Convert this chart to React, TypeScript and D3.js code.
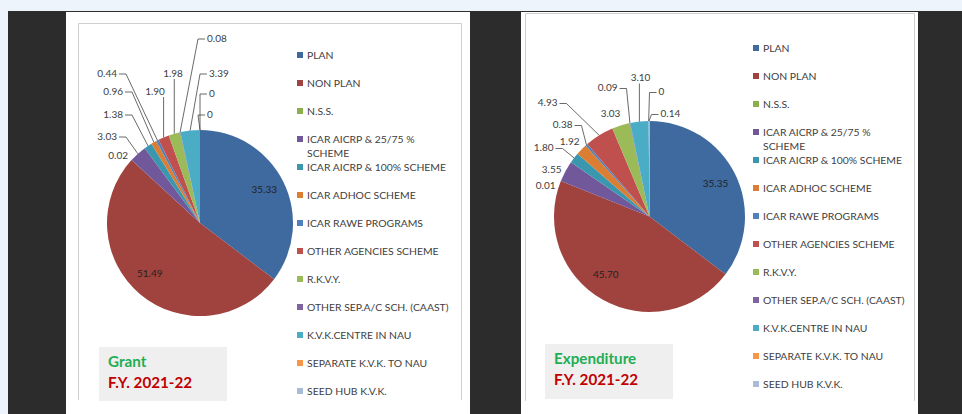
import React from "react";
import * as d3 from "d3";

const categories = [
  "PLAN",
  "NON PLAN",
  "N.S.S.",
  "ICAR AICRP & 25/75 % SCHEME",
  "ICAR AICRP & 100% SCHEME",
  "ICAR ADHOC SCHEME",
  "ICAR RAWE PROGRAMS",
  "OTHER AGENCIES SCHEME",
  "R.K.V.Y.",
  "OTHER SEP.A/C SCH. (CAAST)",
  "K.V.K.CENTRE IN NAU",
  "SEPARATE K.V.K. TO NAU",
  "SEED HUB K.V.K.",
];
const grantValues = [35.33, 51.49, 0.02, 3.03, 1.38, 0.96, 0.44, 1.9, 1.98, 0.08, 3.39, 0, 0];
const expenditureValues = [35.35, 45.7, 0.01, 3.55, 1.8, 1.92, 0.38, 4.93, 3.03, 0.09, 3.1, 0, 0.14];
const grantTitle = ["Grant", "F.Y. 2021-22"];
const expenditureTitle = ["Expenditure", "F.Y. 2021-22"];

const colors = [
  "#3e6a9f", "#a0423d", "#8cae4c", "#71589a", "#3b97ae", "#db7e33",
  "#4f81bd", "#c0504d", "#9bbb59", "#8064a2", "#4bacc6", "#f79646", "#a8bbd8",
];

type Lab = { x: number; y: number; anchor: "start" | "middle" | "end"; leader: "none" | "left" | "right" | "below" | "inside" };

// label layout (positions relative to pie centre; for inside labels an offset from the centroid)
const grantLabels: Lab[] = [
  { x: 1, y: -2, anchor: "middle", leader: "inside" },
  { x: -5, y: -4, anchor: "middle", leader: "inside" },
  { x: -72, y: -68, anchor: "end", leader: "none" },
  { x: -83, y: -87, anchor: "end", leader: "right" },
  { x: -77, y: -109, anchor: "end", leader: "right" },
  { x: -77, y: -132, anchor: "end", leader: "right" },
  { x: -83, y: -150, anchor: "end", leader: "right" },
  { x: -45, y: -132, anchor: "middle", leader: "below" },
  { x: -27, y: -150, anchor: "middle", leader: "below" },
  { x: 7, y: -185, anchor: "start", leader: "left" },
  { x: 9, y: -150, anchor: "start", leader: "left" },
  { x: 9, y: -130, anchor: "start", leader: "left" },
  { x: 7, y: -109, anchor: "start", leader: "left" },
];
const expenditureLabels: Lab[] = [
  { x: 1, y: -1, anchor: "middle", leader: "inside" },
  { x: -8, y: -5, anchor: "middle", leader: "inside" },
  { x: -94, y: -31, anchor: "end", leader: "none" },
  { x: -88, y: -47, anchor: "end", leader: "none" },
  { x: -96, y: -69, anchor: "end", leader: "right" },
  { x: -70, y: -75, anchor: "end", leader: "none" },
  { x: -77, y: -92, anchor: "end", leader: "right" },
  { x: -92, y: -114, anchor: "end", leader: "right" },
  { x: -39, y: -103, anchor: "middle", leader: "none" },
  { x: -32, y: -129, anchor: "end", leader: "right" },
  { x: -9, y: -139, anchor: "middle", leader: "below" },
  { x: 9, y: -125, anchor: "start", leader: "left" },
  { x: 11, y: -103, anchor: "start", leader: "left" },
];

const FONT = "Lato, 'Open Sans', sans-serif";
const TEXT = "#404040";

function fmt(v: number) {
  return v === 0 ? "0" : v.toFixed(2);
}

type ChartProps = {
  values: number[];
  labels: Lab[];
  title: string[];
  cx: number;
  cy: number;
  r: number;
  legendX: number;
  legendY: number;
  titleBox: [number, number, number, number];
};

function PieChart({ values, labels, title, cx, cy, r, legendX, legendY, titleBox }: ChartProps) {
  const pie = d3.pie<number>().sort(null).value((d) => d);
  const arcs = pie(values);
  const arc = d3.arc<d3.PieArcDatum<number>>().innerRadius(0).outerRadius(r);
  const edge = (a: d3.PieArcDatum<number>) => {
    const m = (a.startAngle + a.endAngle) / 2;
    return [r * Math.sin(m), -r * Math.cos(m)];
  };
  const inside = (a: d3.PieArcDatum<number>) => {
    const m = (a.startAngle + a.endAngle) / 2;
    const k = 0.76 * r;
    return [k * Math.sin(m), -k * Math.cos(m)];
  };
  const rowStep = 28;
  const legendRows = categories.map((c, i) => ({
    i,
    y: legendY + i * rowStep,
    lines: c === "ICAR AICRP & 25/75 % SCHEME" ? ["ICAR AICRP & 25/75 %", "SCHEME"] : [c],
  }));
  return (
    <g>
      <g transform={`translate(${cx},${cy})`}>
        {arcs.map((a, i) => (
          <path key={i} d={arc(a) || ""} fill={colors[i]} />
        ))}
        {arcs.map((a, i) => {
          const L = labels[i];
          const txt = fmt(values[i]);
          if (L.leader === "inside") {
            const [x, y] = inside(a);
            return (
              <text key={i} x={x + L.x} y={y + L.y + 3.5} textAnchor="middle" fontSize={10} fill="#222" fontFamily={FONT}>
                {txt}
              </text>
            );
          }
          const [ex, ey] = edge(a);
          let d = "";
          if (L.leader === "right") {
            const x1 = L.x + 2;
            const yy = L.y + 1;
            d = `M${x1},${yy}H${x1 + 7}L${ex},${ey}`;
          } else if (L.leader === "left") {
            const x1 = L.x - 2;
            const yy = L.y + 1;
            d = `M${x1},${yy}H${x1 - 7}L${ex},${ey}`;
          } else if (L.leader === "below") {
            d = `M${ex},${L.y + 6}L${ex},${ey}`;
          }
          return (
            <g key={i}>
              {d && <path d={d} fill="none" stroke="#444" strokeWidth={0.8} />}
              <text x={L.x} y={L.y + 3.5} textAnchor={L.anchor} fontSize={10} fill={TEXT} fontFamily={FONT}>
                {txt}
              </text>
            </g>
          );
        })}
      </g>
      {legendRows.map((lr) => (
        <g key={lr.i}>
          <rect x={legendX} y={lr.y - 3} width={6} height={6} fill={colors[lr.i]} />
          {lr.lines.map((ln, j) => (
            <text key={j} x={legendX + 10} y={lr.y + 3.7 + j * 14} fontSize={10.4} fill={TEXT} fontFamily={FONT}>
              {ln}
            </text>
          ))}
        </g>
      ))}
      <rect x={titleBox[0]} y={titleBox[1]} width={titleBox[2]} height={titleBox[3]} fill="#efefef" />
      <text x={titleBox[0] + 9} y={titleBox[1] + 20} fontSize={15.2} fontWeight="bold" fill="#1fae52" fontFamily={FONT}>
        {title[0]}
      </text>
      <text x={titleBox[0] + 9} y={titleBox[1] + 41} fontSize={15.2} fontWeight="bold" fill="#c00000" fontFamily={FONT}>
        {title[1]}
      </text>
    </g>
  );
}

export default function App() {
  return (
    <svg width={962} height={414} style={{ position: "absolute", left: 0, top: 0 }}>
      <rect x={0} y={0} width={962} height={414} fill="#edf4fc" />
      <rect x={8} y={11} width={954} height={403} fill="#2c2c2c" />
      <rect x={66} y={12} width={404} height={402} fill="#ffffff" />
      <rect x={521} y={12} width={397} height={402} fill="#ffffff" />
      <path d="M78.5,400V23.5H461.5V400" fill="none" stroke="#cfcfcf" strokeWidth={1} />
      <path d="M525.5,401V13.5H914.5V401" fill="none" stroke="#cfcfcf" strokeWidth={1} />
      <PieChart
        values={grantValues}
        labels={grantLabels}
        title={grantTitle}
        cx={200}
        cy={223}
        r={93}
        legendX={297}
        legendY={55}
        titleBox={[99, 347, 128, 54]}
      />
      <PieChart
        values={expenditureValues}
        labels={expenditureLabels}
        title={expenditureTitle}
        cx={649.5}
        cy={216.5}
        r={95.5}
        legendX={753}
        legendY={48}
        titleBox={[545, 344, 128, 55]}
      />
    </svg>
  );
}
